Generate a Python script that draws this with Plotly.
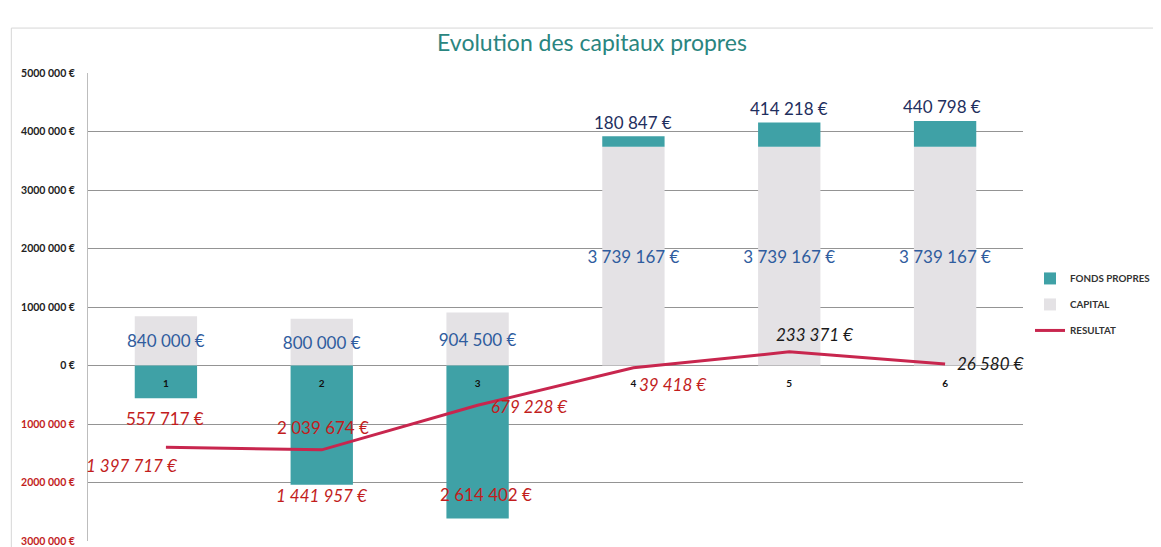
import plotly.graph_objects as go

categories = ["1", "2", "3", "4", "5", "6"]
capital = [840000, 800000, 904500, 3739167, 3739167, 3739167]
fonds_propres = [-557717, -2039674, -2614402, 180847, 414218, 440798]
resultat = [-1397717, -1441957, -679228, -39418, 233371, 26580]

tick_values = [5000000, 4000000, 3000000, 2000000, 1000000, 0,
               -1000000, -2000000, -3000000]
tick_labels = ["5000 000 €", "4000 000 €", "3000 000 €", "2000 000 €",
               "1000 000 €", "0 €", "1000 000 €", "2000 000 €", "3000 000 €"]

TEAL = "#3fa1a6"
GREY = "#e4e2e5"
LINE = "#c8264e"
BLUE = "#2f5c9e"
NAVY = "#1f2f5e"
RED = "#c21d1d"
FONT = "Lato"
LABEL_SIZE = 17


def euro(v):
    # french style, negatives shown in red without the sign
    s = f"{abs(v):,}".replace(",", " ")
    return s + " €"


# label offsets in pixels (x, y)
fp_shift = [(-1, -20), (1, 57), (8, 24), (0, 14), (0, 14), (-3, 14)]
res_shift = [(-34, -18), (0, -46), (52, -1), (40, -17), (26, 17), (45, 0)]

fig = go.Figure()

fig.add_trace(go.Bar(
    x=categories, y=capital, name="CAPITAL", legendgroup="cap",
    marker=dict(color=GREY, line=dict(width=0)),
    text=[euro(v) for v in capital], textposition="inside",
    insidetextanchor="middle", textangle=0, constraintext="none",
    textfont=dict(family=FONT, size=LABEL_SIZE, color=BLUE),
    legendrank=2, hoverinfo="skip",
))
fig.add_trace(go.Bar(
    x=categories, y=fonds_propres, name="FONDS PROPRES", legendgroup="fp",
    marker=dict(color=TEAL, line=dict(width=0)),
    legendrank=1, hoverinfo="skip",
))
fig.add_trace(go.Scatter(
    x=categories, y=resultat, name="RESULTAT", mode="lines", legendgroup="res",
    line=dict(color=LINE, width=3),
    legendrank=3, hoverinfo="skip",
))

annotations = []
for i, cat in enumerate(categories):
    fp = fonds_propres[i]
    top = fp + capital[i] if fp > 0 else fp
    # category axis: annotations are placed by category index
    annotations.append(dict(
        x=i, y=top, text=euro(fp), showarrow=False,
        xshift=fp_shift[i][0], yshift=fp_shift[i][1],
        font=dict(family=FONT, size=LABEL_SIZE, color=NAVY if fp > 0 else RED),
    ))
    r = resultat[i]
    annotations.append(dict(
        x=i, y=r, text="<i>" + euro(r) + "</i>", showarrow=False,
        xshift=res_shift[i][0], yshift=res_shift[i][1],
        font=dict(family=FONT, size=LABEL_SIZE,
                  color="#1a1a1a" if r > 0 else RED),
    ))

tick_text = []
for v, t in zip(tick_values, tick_labels):
    if v < 0:
        tick_text.append(f"<span style='color:{RED}'>{t}</span>")
    else:
        tick_text.append(t)

fig.update_layout(
    width=1161, height=547,
    margin=dict(l=80, r=146, t=65, b=14, autoexpand=False),
    paper_bgcolor="white", plot_bgcolor="white",
    barmode="relative", bargap=0.6,
    font=dict(family=FONT, color="#222"),
    title=dict(text="Evolution des capitaux propres", x=0.503, xanchor="center",
               y=0.936, yanchor="middle",
               font=dict(family=FONT, size=23, color="#2a8580")),
    legend=dict(x=1.0075, y=0.592, xanchor="left", yanchor="top",
                font=dict(family=FONT, size=9.8, color="#333", weight="bold"),
                bgcolor="rgba(0,0,0,0)", itemwidth=30, tracegroupgap=7),
    xaxis=dict(type="category", range=[-0.5, 5.5], automargin=False,
               anchor="free", position=0.376, showgrid=False,
               showline=False, ticks="", zeroline=False,
               ticklabelstandoff=11,
               tickfont=dict(family=FONT, size=10, color="#111",
                             weight="bold")),
    yaxis=dict(range=[-3000000, 5000000], tickvals=tick_values,
               ticktext=tick_text, showgrid=True, gridcolor="#949494",
               gridwidth=1, zeroline=True, zerolinecolor="#949494",
               zerolinewidth=1, showline=True, linecolor="#bdbdbd",
               automargin=False,
               tickfont=dict(family=FONT, size=10.5, color="#222",
                             weight="bold"),
               ticklabelstandoff=10),
    annotations=annotations,
    shapes=[dict(type="line", xref="paper", yref="paper", x0=-0.082, x1=1.15,
                 y0=1.096, y1=1.096, line=dict(color="#d6d6d6", width=1)),
            dict(type="line", xref="paper", yref="paper", x0=-0.082, x1=-0.082,
                 y0=-0.02, y1=1.096, line=dict(color="#d6d6d6", width=1))],
)

fig.write_html("out.html")
